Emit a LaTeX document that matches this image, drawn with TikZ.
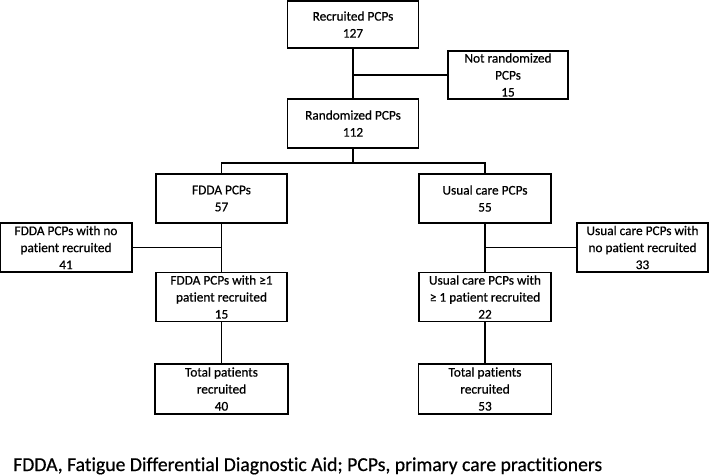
\documentclass[tikz,border=0pt]{standalone}
\usepackage{fontspec}
\setmainfont[Ligatures=NoCommon, FakeBold=0.6]{Carlito}
\tikzset{
  pcpbox/.style={draw, line width=1.3pt, minimum width=131pt, minimum height=49pt,
    align=center, inner sep=2pt, font=\fontsize{13.3}{17}\selectfont},
  link/.style={line width=1.3pt}
}
\begin{document}
\begin{tikzpicture}[x=1pt, y=-1pt]
  \useasboundingbox (0,0) rectangle (709,475);
  % recruitment and randomisation
  \node[pcpbox, minimum height=47pt] (recr) at (353,24.5) {Recruited PCPs\\127};
  \node[pcpbox, minimum width=120pt, minimum height=48pt] (notrand) at (508,75) {Not randomized\\PCPs\\15};
  \node[pcpbox] (rand) at (353,123.5) {Randomized PCPs\\112};
  \coordinate (split) at (353,163);
  % FDDA arm
  \node[pcpbox] (fdda) at (221.5,198.5) {FDDA PCPs\\57};
  \node[pcpbox, minimum width=132pt] (fddano) at (66,247.5) {FDDA PCPs with no\\patient recruited\\41};
  \node[pcpbox] (fddaone) at (221.5,297) {FDDA PCPs with ≥1\\patient recruited\\15};
  \node[pcpbox, minimum width=133pt, minimum height=50pt] (fddatot) at (221.5,389) {Total patients\\recruited\\40};
  % usual care arm
  \node[pcpbox, minimum width=132pt] (uc) at (485,198.5) {Usual care PCPs\\55};
  \node[pcpbox] (ucno) at (642.5,247.5) {Usual care PCPs with\\no patient recruited\\33};
  \node[pcpbox, minimum width=132pt] (ucone) at (485,297) {Usual care PCPs with\\≥ 1 patient recruited\\22};
  \node[pcpbox, minimum width=133pt, minimum height=50pt] (uctot) at (485,389) {Total patients\\recruited\\53};
  % connectors
  \draw[link] (recr.south) -- (rand.north);
  \draw[link] (notrand.west) -- (notrand.west -| recr.south);
  \draw[link] (rand.south) -- (split);
  \draw[link] (fdda.north) |- (split) -| (uc.north);
  \draw[link] (fdda.south) -- (fddaone.north);
  \draw[link] (fddano.east) -- (fddano.east -| fdda.south);
  \draw[link] (fddaone.south) -- (fddatot.north);
  \draw[link] (uc.south) -- (ucone.north);
  \draw[link] (ucno.west) -- (ucno.west -| uc.south);
  \draw[link] (ucone.south) -- (uctot.north);
  % legend
  \node[anchor=base west, inner sep=0pt, font=\fontsize{19.7}{23}\selectfont] (legend) at (13,471)
    {FDDA, Fatigue Differential Diagnostic Aid; PCPs, primary care practitioners};
\end{tikzpicture}
\end{document}
